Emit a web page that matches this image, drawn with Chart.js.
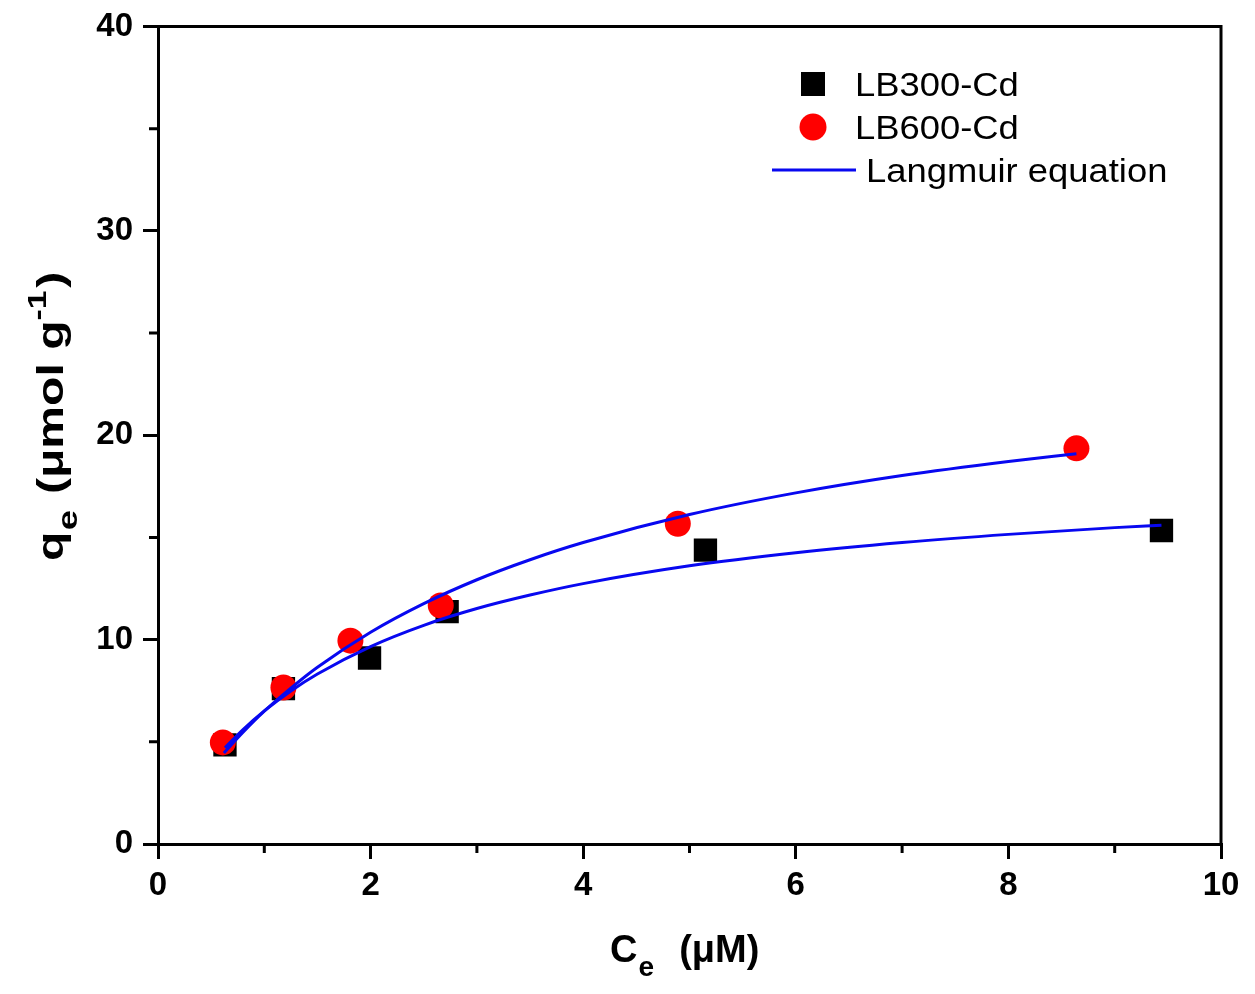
<!DOCTYPE html>
<html>
<head>
<meta charset="utf-8">
<script src="https://cdn.jsdelivr.net/npm/chart.js@4.4.1/dist/chart.umd.min.js"></script>
<style>
html,body{margin:0;padding:0;background:#fff;}
#wrap{width:1255px;height:994px;position:relative;}
</style>
</head>
<body>
<div id="wrap"><canvas id="c" width="1255" height="994"></canvas></div>
<script>
// ---- data ----
const lb300X = [0.63, 1.18, 1.99, 2.72, 5.15, 9.44];
const lb300Y = [4.85, 7.6, 9.1, 11.37, 14.38, 15.34];
const lb600X = [0.61, 1.18, 1.81, 2.66, 4.89, 8.64];
const lb600Y = [4.97, 7.66, 9.95, 11.67, 15.67, 19.36];
// Langmuir fitted curves
const fit300X = [0.63, 0.8, 1.0, 1.25, 1.5, 2.0, 2.5, 3.0, 3.5, 4.0, 5.0, 6.0, 7.0, 8.0, 9.0, 9.44];
const fit300Y = [4.71, 5.60, 6.51, 7.49, 8.32, 9.66, 10.70, 11.52, 12.18, 12.74, 13.61, 14.25, 14.75, 15.15, 15.48, 15.60];
const fit600X = [0.62, 0.8, 1.0, 1.25, 1.5, 2.0, 2.5, 3.0, 3.5, 4.0, 5.0, 6.0, 7.0, 8.0, 8.64];
const fit600Y = [4.45, 5.47, 6.50, 7.63, 8.65, 10.36, 11.76, 12.93, 13.91, 14.75, 16.12, 17.18, 18.03, 18.72, 19.10];
const xTicks = [0, 2, 4, 6, 8, 10];
const yTicks = [0, 10, 20, 30, 40];
const xMinor = [1, 3, 5, 7, 9];
const yMinor = [5, 15, 25, 35];
const legendLabels = ['LB300-Cd', 'LB600-Cd', 'Langmuir equation'];

const pts = (xs, ys) => xs.map((x, i) => ({x: x, y: ys[i]}));
const FONT = '"Liberation Sans", Arial, sans-serif';
const BLUE = '#0808f0';

function drawRich(ctx, segs, x, y, rot, sx) {
  ctx.save();
  ctx.translate(x, y);
  ctx.rotate(rot);
  ctx.scale(sx || 1, 1);
  ctx.fillStyle = '#000';
  ctx.textBaseline = 'alphabetic';
  ctx.textAlign = 'left';
  let cx = 0;
  for (const s of segs) {
    ctx.font = 'bold ' + s.size + 'px ' + FONT;
    cx += (s.dx || 0);
    ctx.fillText(s.t, cx, s.dy || 0);
    cx += ctx.measureText(s.t).width;
  }
  ctx.restore();
}

const decor = {
  id: 'decor',
  beforeDraw(chart) {
    const ctx = chart.ctx;
    ctx.save();
    ctx.fillStyle = '#fff';
    ctx.fillRect(0, 0, chart.width, chart.height);
    ctx.restore();
  },
  afterDraw(chart) {
    const ctx = chart.ctx;
    const a = chart.chartArea;
    const xs = chart.scales.x, ys = chart.scales.y;
    ctx.save();
    ctx.strokeStyle = '#000';
    ctx.lineWidth = 3;
    ctx.lineCap = 'butt';
    // frame top/right
    ctx.beginPath();
    ctx.moveTo(a.left - 1.5, a.top);
    ctx.lineTo(a.right, a.top);
    ctx.lineTo(a.right, a.bottom);
    ctx.stroke();
    // minor ticks
    ctx.beginPath();
    for (const v of xMinor) {
      const p = xs.getPixelForValue(v);
      ctx.moveTo(p, a.bottom);
      ctx.lineTo(p, a.bottom + 9);
    }
    for (const v of yMinor) {
      const p = ys.getPixelForValue(v);
      ctx.moveTo(a.left, p);
      ctx.lineTo(a.left - 9, p);
    }
    ctx.stroke();
    ctx.restore();

    // axis titles
    drawRich(ctx, [
      {t: 'C', size: 38},
      {t: 'e', size: 28, dy: 14, dx: 1},
      {t: '  (\u03bcM)', size: 38, dx: 4}
    ], 610, 962, 0, 1);
    drawRich(ctx, [
      {t: 'q', size: 37},
      {t: 'e', size: 28, dy: 14, dx: 1},
      {t: ' (\u03bcmol g', size: 37, dx: 2},
      {t: '-1', size: 26, dy: -17},
      {t: ')', size: 37, dx: 2}
    ], 63, 561, -Math.PI / 2, 1.3);

    // legend
    ctx.save();
    ctx.fillStyle = '#000';
    ctx.fillRect(801, 72, 24, 24);
    ctx.fillStyle = '#ff0000';
    ctx.beginPath();
    ctx.arc(813, 127, 13.5, 0, Math.PI * 2);
    ctx.fill();
    ctx.strokeStyle = BLUE;
    ctx.lineWidth = 3;
    ctx.beginPath();
    ctx.moveTo(772, 170);
    ctx.lineTo(856, 170);
    ctx.stroke();
    ctx.fillStyle = '#000';
    ctx.font = '34px ' + FONT;
    ctx.textBaseline = 'alphabetic';
    const lt = (t, x, y) => { ctx.save(); ctx.translate(x, y); ctx.scale(1.07, 1); ctx.fillText(t, 0, 0); ctx.restore(); };
    lt(legendLabels[0], 855, 96);
    lt(legendLabels[1], 855, 139);
    lt(legendLabels[2], 866, 182);
    ctx.restore();
  }
};

new Chart(document.getElementById('c'), {
  type: 'scatter',
  data: {
    datasets: [
      {label: 'Langmuir LB300', data: pts(fit300X, fit300Y), showLine: true, pointRadius: 0,
       borderColor: BLUE, borderWidth: 3, cubicInterpolationMode: 'monotone', order: 0},
      {label: 'Langmuir LB600', data: pts(fit600X, fit600Y), showLine: true, pointRadius: 0,
       borderColor: BLUE, borderWidth: 3, cubicInterpolationMode: 'monotone', order: 0},
      {label: legendLabels[1], data: pts(lb600X, lb600Y), pointStyle: 'circle', pointRadius: 13,
       backgroundColor: '#ff0000', borderColor: '#ff0000', borderWidth: 0, order: 1},
      {label: legendLabels[0], data: pts(lb300X, lb300Y), pointStyle: 'rect', pointRadius: 16.5,
       backgroundColor: '#000', borderColor: '#000', borderWidth: 0, order: 2}
    ]
  },
  options: {
    responsive: false,
    animation: false,
    devicePixelRatio: 1,
    layout: {padding: {top: 24, right: 34, left: 0, bottom: 0}},
    plugins: {legend: {display: false}, tooltip: {enabled: false}},
    scales: {
      x: {
        type: 'linear', min: 0, max: 10,
        afterBuildTicks: s => { s.ticks = xTicks.map(v => ({value: v})); },
        ticks: {color: '#000', font: {family: FONT, size: 33, weight: 'bold', lineHeight: 1}, padding: 10, maxRotation: 0},
        grid: {drawOnChartArea: false, drawTicks: true, tickLength: 15, lineWidth: 3, color: '#000'},
        border: {display: true, color: '#000', width: 3},
        afterFit: s => { s.height = 150; }
      },
      y: {
        type: 'linear', min: 0, max: 40,
        afterBuildTicks: s => { s.ticks = yTicks.map(v => ({value: v})); },
        ticks: {color: '#000', font: {family: FONT, size: 33, weight: 'bold', lineHeight: 1}, padding: 10},
        grid: {drawOnChartArea: false, drawTicks: true, tickLength: 15, lineWidth: 3, color: '#000'},
        border: {display: true, color: '#000', width: 3},
        afterFit: s => { s.width = 158; }
      }
    }
  },
  plugins: [decor]
});
</script>
</body>
</html>
